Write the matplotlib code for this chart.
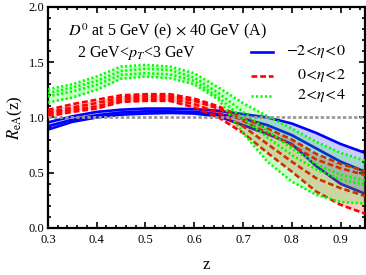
import matplotlib
matplotlib.use("Agg")
import matplotlib.pyplot as plt
from matplotlib.lines import Line2D
from matplotlib.ticker import MultipleLocator, FuncFormatter

z = [0.30, 0.35, 0.40, 0.45, 0.50, 0.55, 0.60, 0.65, 0.70, 0.75, 0.80, 0.85, 0.90, 0.95]

# -2<eta<0 (blue, solid)
blue_1 = [0.955, 1.01, 1.05, 1.07, 1.08, 1.08, 1.075, 1.06, 1.03, 1.00, 0.945, 0.86, 0.76, 0.68]
blue_2 = [0.92, 0.98, 1.02, 1.045, 1.055, 1.055, 1.05, 1.03, 0.99, 0.93, 0.84, 0.72, 0.60, 0.51]
blue_3 = [0.89, 0.96, 1.00, 1.025, 1.035, 1.04, 1.035, 1.01, 0.93, 0.85, 0.76, 0.56, 0.40, 0.31]

# 0<eta<2 (red, dashed)
red_1 = [1.068, 1.12, 1.16, 1.20, 1.21, 1.21, 1.17, 1.10, 1.00, 0.90, 0.80, 0.67, 0.58, 0.515]
red_2 = [1.045, 1.09, 1.13, 1.18, 1.19, 1.19, 1.15, 1.08, 0.97, 0.86, 0.75, 0.62, 0.54, 0.48]
red_3 = [1.03, 1.07, 1.10, 1.16, 1.17, 1.17, 1.12, 1.04, 0.92, 0.76, 0.60, 0.45, 0.36, 0.29]
red_4 = [1.01, 1.05, 1.08, 1.14, 1.15, 1.15, 1.09, 1.00, 0.86, 0.68, 0.51, 0.33, 0.21, 0.13]

# 2<eta<4 (green, dotted)
green_1 = [1.255, 1.30, 1.37, 1.46, 1.475, 1.46, 1.40, 1.27, 1.13, 1.01, 0.90, 0.78, 0.68, 0.61]
green_2 = [1.22, 1.27, 1.33, 1.42, 1.44, 1.43, 1.36, 1.22, 1.05, 0.88, 0.72, 0.58, 0.48, 0.43]
green_3 = [1.19, 1.235, 1.295, 1.385, 1.40, 1.39, 1.33, 1.18, 0.99, 0.82, 0.66, 0.53, 0.44, 0.39]
green_4 = [1.135, 1.18, 1.25, 1.35, 1.37, 1.355, 1.30, 1.16, 0.86, 0.60, 0.42, 0.30, 0.235, 0.22]

labels = [r"$-2\!<\!\eta\!<\!0$", r"$0\!<\!\eta\!<\!2$", r"$2\!<\!\eta\!<\!4$"]

plt.rcParams['font.family'] = ['Liberation Serif', 'DejaVu Serif']
plt.rcParams['mathtext.fontset'] = 'stix'

fig = plt.figure(figsize=(3.66, 2.75), dpi=100)
ax = fig.add_axes([0.131, 0.171, 0.866, 0.804])

BLUE = '#0000ff'
RED = '#ff0000'
GREEN = '#00ff00'
LS_RED = (0, (2.2, 1.1))
LS_GREEN = (0, (0.8, 0.9))

groups = [
    ([blue_1, blue_2, blue_3], BLUE, '-'),
    ([red_1, red_2, red_3, red_4], RED, LS_RED),
    ([green_1, green_2, green_3, green_4], GREEN, LS_GREEN),
]

for i, (lines, col, ls) in enumerate(groups):
    z0 = 2 + i * 2
    for ln in lines:
        ax.plot(z, ln, color=col, ls=ls, lw=1.9, zorder=z0)
    ax.fill_between(z, lines[0], lines[-1], color=col, alpha=0.2, lw=0, zorder=z0 + 1)

ax.axhline(1.0, color='#999999', ls=(0, (1.2, 0.8)), lw=2.0, zorder=10)

ax.set_xlim(0.3, 0.95)
ax.set_ylim(0.0, 2.0)
ax.xaxis.set_major_locator(MultipleLocator(0.1))
ax.xaxis.set_minor_locator(MultipleLocator(0.02))
ax.yaxis.set_major_locator(MultipleLocator(0.5))
ax.yaxis.set_minor_locator(MultipleLocator(0.1))
ax.xaxis.set_major_formatter(FuncFormatter(lambda v, p: f"{v:.1f}"))
ax.yaxis.set_major_formatter(FuncFormatter(lambda v, p: f"{v:.1f}"))
ax.tick_params(which='both', direction='in', top=True, right=True, labelsize=9, width=1.2)
ax.tick_params(axis='x', pad=4)
ax.tick_params(axis='y', pad=2.5)
ax.tick_params(which='major', length=4)
ax.tick_params(which='minor', length=2.2)
for s in ax.spines.values():
    s.set_linewidth(1.6)

ax.set_xlabel("z", fontsize=12, labelpad=8)
ax.set_ylabel(r"$R_{\mathrm{eA}}$(z)", fontsize=12, labelpad=3)

ax.text(0.063, 0.891, r"$D^0$ at 5 GeV (e) $\times$ 40 GeV (A)", transform=ax.transAxes,
        fontsize=11.5, ha='left', va='center')
ax.text(0.091, 0.792, r"2 GeV<$p_T$<3 GeV", transform=ax.transAxes,
        fontsize=11.5, ha='left', va='center')

leg_y = [0.796, 0.688, 0.597]
leg_styles = [(BLUE, '-'), (RED, LS_RED), (GREEN, LS_GREEN)]
for yy, (col, ls), lab in zip(leg_y, leg_styles, labels):
    ax.add_line(Line2D([0.64, 0.71], [yy, yy], transform=ax.transAxes, color=col, ls=ls, lw=1.9))
    ax.text(0.94, yy, lab, transform=ax.transAxes, fontsize=11.5, ha='right', va='center')

fig.savefig("out.png", dpi=100)
